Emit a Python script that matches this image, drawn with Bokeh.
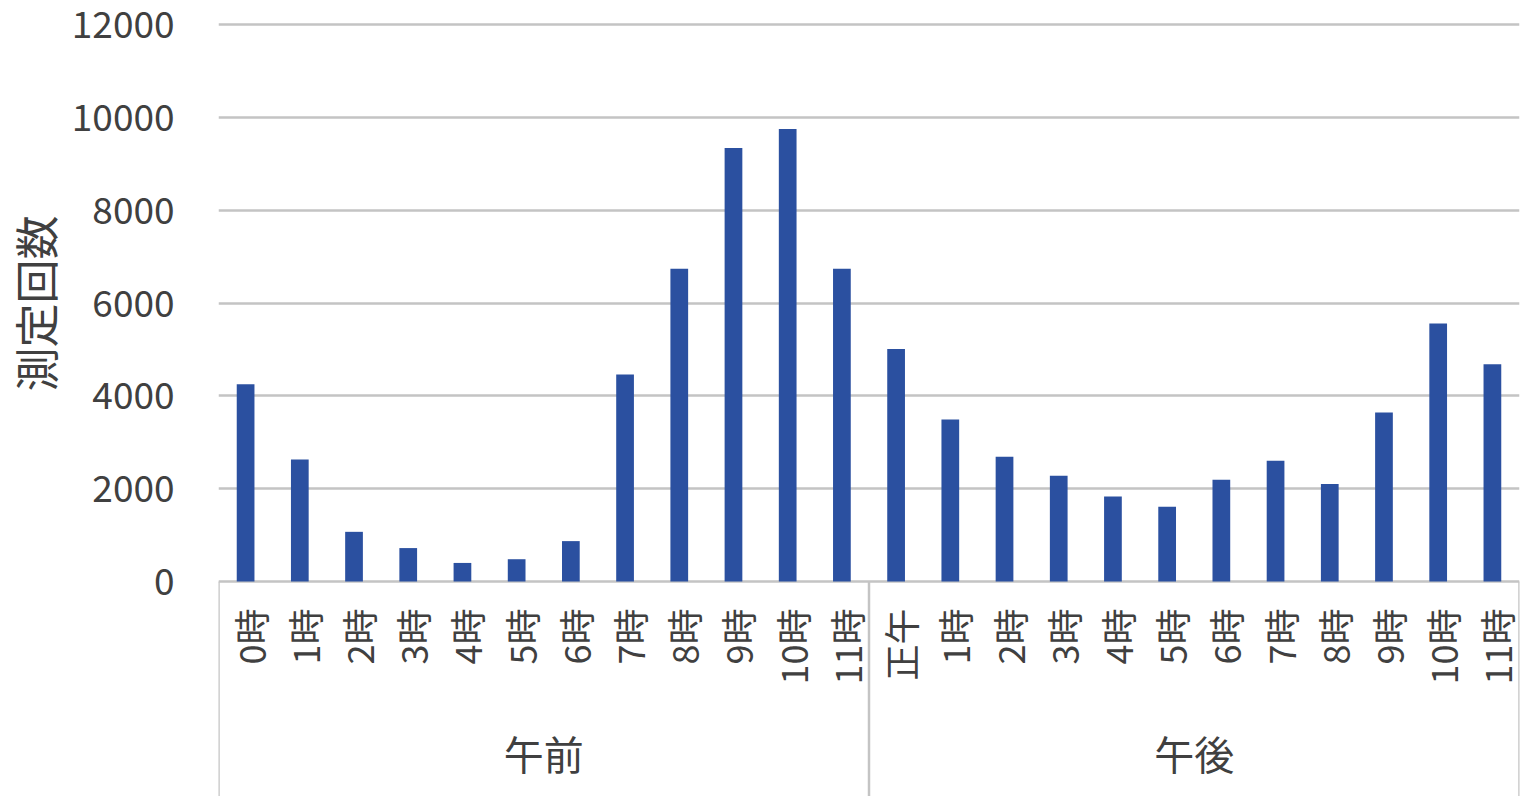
import math
from bokeh.plotting import figure
from bokeh.models import FactorRange, FixedTicker, Title, ColumnDataSource
from bokeh.core.properties import value
from bokeh.embed import file_html
from bokeh.resources import INLINE

# ---------------- data ----------------
groups = ["午前", "午後"]
hours_am = ["0時", "1時", "2時", "3時", "4時", "5時", "6時", "7時", "8時", "9時", "10時", "11時"]
hours_pm = ["正午", "1時", "2時", "3時", "4時", "5時", "6時", "7時", "8時", "9時", "10時", "11時"]
counts_am = [4250, 2630, 1070, 720, 400, 480, 870, 4460, 6740, 9340, 9750, 6740]
counts_pm = [5010, 3490, 2690, 2280, 1830, 1610, 2190, 2600, 2100, 3640, 5560, 4680]
y_ticks = [0, 2000, 4000, 6000, 8000, 10000, 12000]
y_label = "測定回数"

# ---------------- layout ----------------
W, H = 1523, 796
TOP_BORDER = 4
TOP_TICK_PX = 24     # where the top tick sits (canvas px)
ZERO_PX = 581        # where 0 sits (canvas px)
px_per_unit = (ZERO_PX - TOP_TICK_PX) / (y_ticks[-1] - y_ticks[0])
y_end = y_ticks[-1] + (TOP_TICK_PX - TOP_BORDER) / px_per_unit
y_start = -(H - ZERO_PX) / px_per_unit

FONT = "Noto Sans CJK JP"
TEXT_COLOR = "#404040"
BAR_COLOR = "#2B50A0"
GRID_COLOR = "#C4C4C4"

factors = [(groups[0], h) for h in hours_am] + [(groups[1], h) for h in hours_pm]
labels = hours_am + hours_pm
counts = counts_am + counts_pm

p = figure(
    x_range=FactorRange(*factors, group_padding=0, factor_padding=0, range_padding=0),
    y_range=(y_start, y_end),
    width=W, height=H,
    output_backend="svg", toolbar_location=None,
    min_border_left=218, min_border_right=4, min_border_top=TOP_BORDER, min_border_bottom=0,
)
p.outline_line_color = None
p.xaxis.visible = False
p.xgrid.visible = False

# y axis
p.yaxis.ticker = FixedTicker(ticks=y_ticks)
p.yaxis.axis_line_color = None
p.yaxis.major_tick_line_color = None
p.yaxis.minor_tick_line_color = None
p.yaxis.major_label_text_font = FONT
p.yaxis.major_label_text_font_size = "37px"
p.yaxis.major_label_text_color = TEXT_COLOR
p.yaxis.major_label_standoff = 38

p.ygrid.ticker = FixedTicker(ticks=y_ticks)
p.ygrid.grid_line_color = GRID_COLOR
p.ygrid.grid_line_width = 2.5

# bars
src = ColumnDataSource(dict(x=factors, top=counts, label=labels))
p.vbar(x="x", top="top", width=0.327, source=src, fill_color=BAR_COLOR, line_color=None)

# separator lines of the category axis
sep_x = [(groups[0], hours_am[0], -0.5), (groups[1], hours_pm[0], -0.5), (groups[1], hours_pm[-1], 0.5)]
p.segment(x0=sep_x, x1=sep_x, y0=[0] * 3, y1=[y_start] * 3, line_color=GRID_COLOR, line_width=2.5)

# category tick labels (vertical)
p.text(x="x", y=0, text="label", source=src, angle=math.pi / 2,
       text_align="right", text_baseline="middle", y_offset=27, x_offset=4,
       text_font=value(FONT), text_font_size="36px", text_color=TEXT_COLOR)

# group labels
p.text(x=groups, y=[0, 0], text=groups, text_align="center", text_baseline="middle",
       y_offset=171, text_font=value(FONT), text_font_size="40px", text_color=TEXT_COLOR)

# y axis title
p.add_layout(Title(text=y_label, align="left", vertical_align="top", offset=405, standoff=0,
                   text_font=FONT, text_font_size="44px", text_font_style="normal",
                   text_color=TEXT_COLOR), "left")

open("out.html", "w").write(file_html(p, INLINE))
